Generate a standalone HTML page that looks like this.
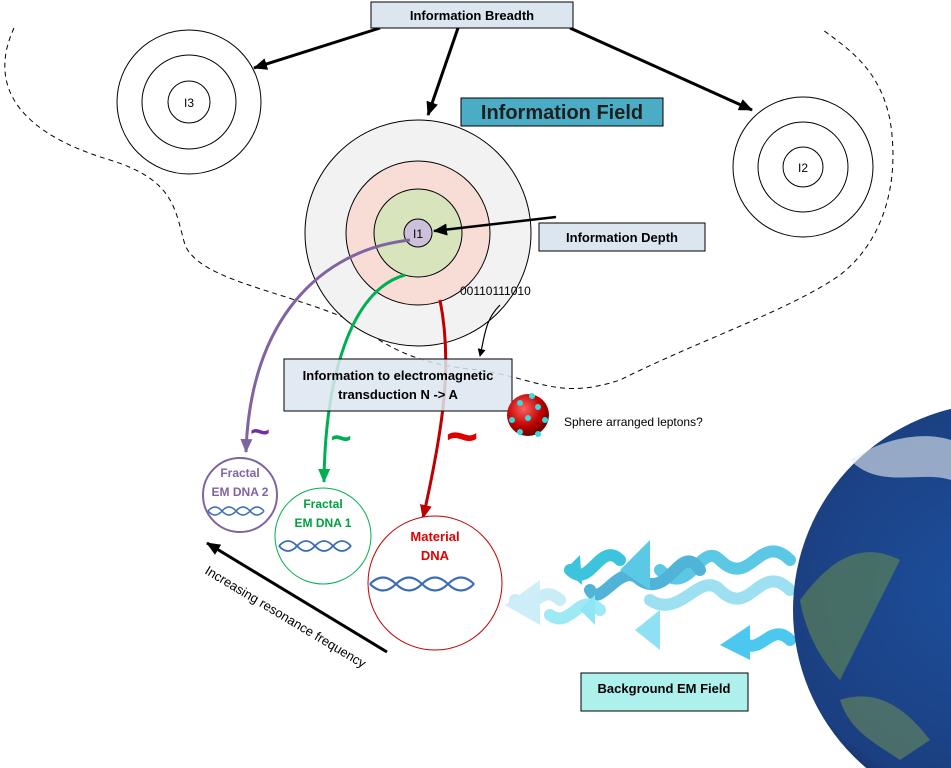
<!DOCTYPE html>
<html><head><meta charset="utf-8"><style>
html,body{margin:0;padding:0;background:#fff;width:951px;height:768px;overflow:hidden}
svg{display:block;font-family:"Liberation Sans",Calibri,sans-serif}
</style></head><body>
<svg width="951" height="768" viewBox="0 0 951 768" xmlns="http://www.w3.org/2000/svg">
<defs>
<marker id="ak" markerWidth="8" markerHeight="8" refX="7" refY="4" orient="auto" markerUnits="userSpaceOnUse"><path d="M0,0 L8,4 L0,8 Z" fill="#000"/></marker>
<marker id="ak2" markerWidth="14" markerHeight="12" refX="13" refY="6" orient="auto" markerUnits="userSpaceOnUse"><path d="M0,0 L14,6 L0,12 Z" fill="#000"/></marker>
<marker id="ap" markerWidth="14" markerHeight="12" refX="13" refY="6" orient="auto" markerUnits="userSpaceOnUse"><path d="M0,0 L14,6 L0,12 Z" fill="#8064a2"/></marker>
<marker id="ag" markerWidth="14" markerHeight="12" refX="13" refY="6" orient="auto" markerUnits="userSpaceOnUse"><path d="M0,0 L14,6 L0,12 Z" fill="#00b050"/></marker>
<marker id="ar" markerWidth="14" markerHeight="12" refX="13" refY="6" orient="auto" markerUnits="userSpaceOnUse"><path d="M0,0 L14,6 L0,12 Z" fill="#c00000"/></marker>
<radialGradient id="sph" cx="0.4" cy="0.35" r="0.7"><stop offset="0" stop-color="#ff6060"/><stop offset="0.6" stop-color="#c00000"/><stop offset="1" stop-color="#600000"/></radialGradient>
<radialGradient id="earth" cx="0.45" cy="0.45" r="0.6"><stop offset="0" stop-color="#1d4f9c"/><stop offset="0.8" stop-color="#1b3f80"/><stop offset="1" stop-color="#0e1f40"/></radialGradient>
</defs>

<path d="M14,28 C-10,80 10,130 110,160 C175,180 175,210 185,245 C200,280 280,290 350,320 C390,350 420,365 480,370 C540,380 560,400 620,380 C700,340 790,310 840,275 C885,240 900,180 890,120 C880,70 850,50 823,30" fill="none" stroke="#000" stroke-width="1" stroke-dasharray="5,4"/>

<circle cx="189" cy="102" r="72" fill="#fff" stroke="#000"/>
<circle cx="189" cy="102" r="47" fill="#fff" stroke="#000"/>
<circle cx="189" cy="102" r="21" fill="#fff" stroke="#000"/>
<text x="189" y="107" font-size="12" text-anchor="middle">I3</text>
<circle cx="803" cy="167" r="70" fill="#fff" stroke="#000"/>
<circle cx="803" cy="167" r="45" fill="#fff" stroke="#000"/>
<circle cx="803" cy="167" r="20" fill="#fff" stroke="#000"/>
<text x="803" y="172" font-size="12" text-anchor="middle">I2</text>
<circle cx="418" cy="233" r="113" fill="#f2f2f2" stroke="#000"/>
<circle cx="418" cy="233" r="72" fill="#f8dcd6" stroke="#000"/>
<circle cx="418" cy="233" r="44" fill="#d8e4bc" stroke="#000"/>
<circle cx="418" cy="233" r="14" fill="#ccc0da" stroke="#000"/>
<text x="418" y="238" font-size="12" text-anchor="middle">I1</text>

<line x1="380" y1="28" x2="254" y2="68" stroke="#000" stroke-width="3" marker-end="url(#ak2)"/>
<line x1="458" y1="28" x2="428" y2="115" stroke="#000" stroke-width="3" marker-end="url(#ak2)"/>
<line x1="570" y1="28" x2="752" y2="110" stroke="#000" stroke-width="3" marker-end="url(#ak2)"/>
<rect x="371" y="2" width="202" height="26" fill="#dce6f0" stroke="#000"/>
<text x="472" y="20" font-size="13" font-weight="bold" text-anchor="middle">Information Breadth</text>

<rect x="461" y="98" width="202" height="28" fill="#4bacc6" stroke="#000"/>
<text x="562" y="119" font-size="20" font-weight="bold" text-anchor="middle" fill="#1f1f1f">Information Field</text>

<line x1="556" y1="217" x2="434" y2="231" stroke="#000" stroke-width="2.5" marker-end="url(#ak2)"/>
<rect x="539" y="223" width="166" height="28" fill="#dce6f0" stroke="#000"/>
<text x="622" y="242" font-size="13" font-weight="bold" text-anchor="middle">Information Depth</text>

<text x="460" y="295" font-size="12">00110111010</text>
<path d="M500,305 C485,320 485,335 480,356" fill="none" stroke="#000" stroke-width="1.2" marker-end="url(#ak)"/>

<path d="M410,240 C320,250 250,320 246,452" fill="none" stroke="#8064a2" stroke-width="3" marker-end="url(#ap)"/>
<path d="M405,275 C350,290 325,380 324,482" fill="none" stroke="#00b050" stroke-width="3" marker-end="url(#ag)"/>
<path d="M440,300 C452,360 445,420 423,518" fill="none" stroke="#c00000" stroke-width="3" marker-end="url(#ar)"/>

<rect x="284" y="359" width="228" height="52" fill="#dce6f0" stroke="#000" fill-opacity="0.85"/>
<text x="398" y="380" font-size="13" font-weight="bold" text-anchor="middle">Information to electromagnetic</text>
<text x="398" y="399" font-size="13" font-weight="bold" text-anchor="middle">transduction N -&gt; A</text>

<text x="260" y="443" font-size="34" font-weight="bold" fill="#7030a0" text-anchor="middle">~</text>
<text x="341" y="450" font-size="36" font-weight="bold" fill="#00b050" text-anchor="middle">~</text>
<text x="462" y="455" font-size="56" font-weight="bold" fill="#e00000" text-anchor="middle">~</text>

<circle cx="528" cy="415" r="21" fill="url(#sph)"/>
<g fill="#33dddd"><circle cx="520" cy="403" r="3"/><circle cx="538" cy="407" r="3"/><circle cx="528" cy="418" r="3"/><circle cx="512" cy="420" r="3"/><circle cx="545" cy="420" r="3"/><circle cx="520" cy="432" r="3"/><circle cx="538" cy="434" r="3"/><circle cx="532" cy="396" r="3"/></g>
<text x="564" y="426" font-size="12">Sphere arranged leptons?</text>

<circle cx="240" cy="495" r="37" fill="#fff" stroke="#8064a2" stroke-width="2"/>
<text x="240" y="477" font-size="12" font-weight="bold" fill="#8064a2" text-anchor="middle">Fractal</text>
<text x="240" y="496" font-size="12" font-weight="bold" fill="#8064a2" text-anchor="middle">EM DNA 2</text>
<path d="M208,511 q7,-8 14,0 t14,0 t14,0 t14,0 M208,511 q7,8 14,0 t14,0 t14,0 t14,0" fill="none" stroke="#3a6db5" stroke-width="1.5"/>

<circle cx="323" cy="536" r="48" fill="#fff" stroke="#00b050" stroke-width="1"/>
<text x="323" y="508" font-size="12" font-weight="bold" fill="#00a040" text-anchor="middle">Fractal</text>
<text x="323" y="527" font-size="12" font-weight="bold" fill="#00a040" text-anchor="middle">EM DNA 1</text>
<path d="M279,546 q9,-10 18,0 t18,0 t18,0 t18,0 M279,546 q9,10 18,0 t18,0 t18,0 t18,0" fill="none" stroke="#3a6db5" stroke-width="1.8"/>

<circle cx="435" cy="583" r="67" fill="#fff" stroke="#c00000" stroke-width="1"/>
<text x="435" y="541" font-size="13" font-weight="bold" fill="#e00000" text-anchor="middle">Material</text>
<text x="435" y="560" font-size="13" font-weight="bold" fill="#e00000" text-anchor="middle">DNA</text>
<path d="M370,584 q13,-13 26,0 t26,0 t26,0 t26,0 M370,584 q13,13 26,0 t26,0 t26,0 t26,0" fill="none" stroke="#3a6db5" stroke-width="2.2"/>

<line x1="387" y1="652" x2="207" y2="543" stroke="#000" stroke-width="3" marker-end="url(#ak2)"/>
<text font-size="13" transform="translate(204,573) rotate(31)">Increasing resonance frequency</text>

<g fill="none" stroke-linecap="round" stroke-width="12">
<path d="M790,560 C760,530 750,590 720,560 C700,540 690,600 660,570" stroke="#5bc8e6"/>
<path d="M790,590 C760,560 750,620 720,590 C700,570 680,620 650,600" stroke="#9ce0f2"/>
<path d="M790,640 C770,620 760,660 740,640" stroke="#4cc8f0"/>
<path d="M700,570 C680,540 670,600 640,580 C620,560 600,610 590,590" stroke="#4fb4d8"/>
<path d="M620,560 C600,540 590,590 570,570" stroke="#3cc4dc"/>
<path d="M600,610 C580,590 570,630 550,615" stroke="#9deaf5"/>
<path d="M560,600 C540,580 530,620 515,600" stroke="#c9ecf7"/>
</g>
<g>
<polygon points="580,555 565,570 582,585" fill="#3cc4dc"/>
<polygon points="650,540 620,570 650,590" fill="#5bc8e6"/>
<polygon points="540,580 505,605 540,625" fill="#cdeef8"/>
<polygon points="595,595 580,610 595,625" fill="#8ee6f4"/>
<polygon points="660,610 635,630 660,650" fill="#8ee0f4"/>
<polygon points="750,625 720,645 750,660" fill="#4cc8f0"/>
</g>

<circle cx="1000" cy="610" r="207" fill="url(#earth)"/>
<path d="M800,600 C830,560 860,540 900,560 C880,600 860,640 840,680 C820,660 805,630 800,600 Z" fill="#6a8f4a" opacity="0.55"/>
<path d="M850,460 C880,440 920,430 951,440 L951,480 C920,470 880,490 850,460 Z" fill="#e8eef2" opacity="0.6"/>
<path d="M840,700 C870,690 900,700 930,740 L900,760 C870,740 850,730 840,700 Z" fill="#7a9a50" opacity="0.5"/>

<rect x="581" y="673" width="167" height="38" fill="#adf0ec" stroke="#000"/>
<text x="664" y="693" font-size="13" font-weight="bold" text-anchor="middle">Background EM Field</text>
</svg>
</body></html>
